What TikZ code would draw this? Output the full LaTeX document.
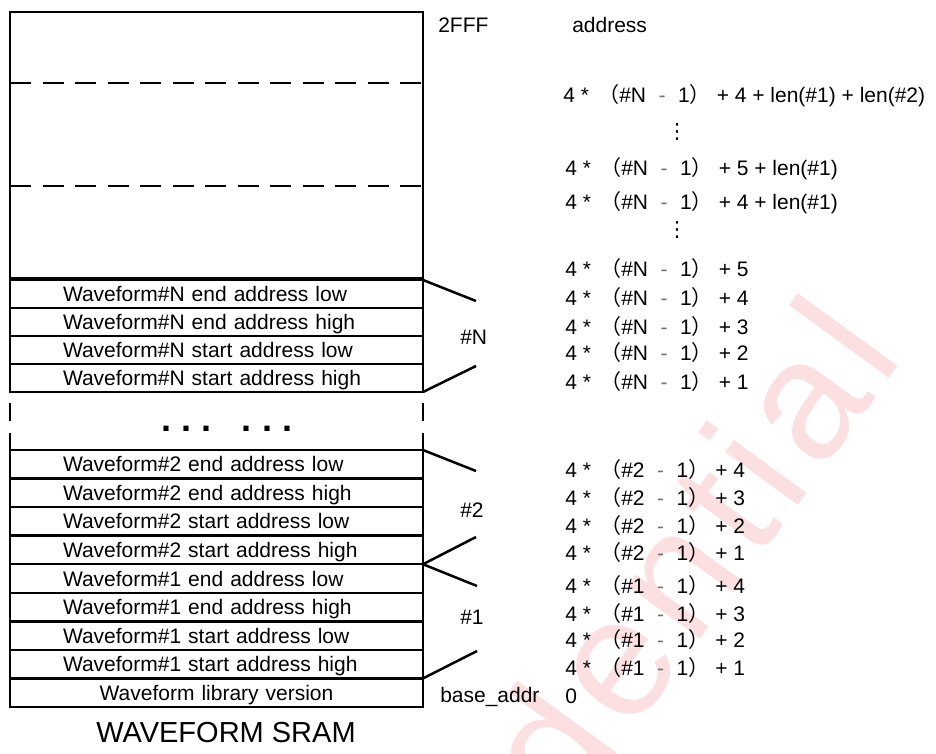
\documentclass[tikz,border=0pt]{standalone}
\usepackage{fontspec}
\setmainfont{Liberation Sans}
\newfontfamily\cjk{Noto Sans CJK SC}
\newfontfamily\dvs{DejaVu Sans}
\usetikzlibrary{positioning}
\definecolor{wmpink}{RGB}{252,224,225}
\newcommand{\fsz}[1]{\fontsize{#1}{#1}\selectfont}
\newcommand{\adr}[2]{\makebox[56pt][l]{4 *}\llap{\cjk （}\##1\makebox[32pt]{\color{black!55}-}1\rlap{\cjk ）}\hspace{27pt}+ #2}

\begin{document}
\begin{tikzpicture}[x=1pt,y=-1pt,line width=2.5pt,node distance=28.55pt,
  row/.style={draw,outer sep=0pt,minimum width=413pt,minimum height=28.55pt,inner xsep=53pt,inner ysep=0pt,
    text width=307pt,align=left,text height=15pt,text depth=0pt,font=\fsz{21}},
  lbl/.style={anchor=base west,inner sep=0pt,font=\fsz{21}}]
  \useasboundingbox (0,0) rectangle (936,754);
  \begin{scope}
    \clip (0,0) rectangle (936,754);
    \node[rotate=54,anchor=base east,inner sep=0pt,text=wmpink,font=\fsz{170}\addfontfeatures{LetterSpace=7}] (wm) at (906,356) {Confidential};
  \end{scope}

  \node[draw,outer sep=0pt,minimum width=413pt,minimum height=266pt] (M) at (216.5,145) {};
  \draw[dashed,dash pattern=on 21pt off 11.5pt] (M.west |- 0,83) -- (M.east |- 0,83);
  \draw[dashed,dash pattern=on 21pt off 11.5pt] (M.west |- 0,186) -- (M.east |- 0,186);

  \node[row,minimum height=28pt] (N1) at (216.5,294) {Waveform\#N end address low};
  \node[row,minimum height=28pt,below of=N1,node distance=28pt] (N2) {Waveform\#N end address high};
  \node[row,minimum height=28pt,below of=N2,node distance=28pt] (N3) {Waveform\#N start address low};
  \node[row,minimum height=28pt,below of=N3,node distance=28pt] (N4) {Waveform\#N start address high};

  \node[font=\bfseries\fsz{36},anchor=base,inner sep=0pt] (D) at (227,431) {\frenchspacing. . .\hspace{30pt}. . .};

  \node[row] (T1) at (216.5,464.3) {Waveform\#2 end address low};
  \node[row,below of=T1] (T2) {Waveform\#2 end address high};
  \node[row,below of=T2] (T3) {Waveform\#2 start address low};
  \node[row,below of=T3] (T4) {Waveform\#2 start address high};
  \node[row,below of=T4] (O1) {Waveform\#1 end address low};
  \node[row,below of=O1] (O2) {Waveform\#1 end address high};
  \node[row,below of=O2] (O3) {Waveform\#1 start address low};
  \node[row,below of=O3] (O4) {Waveform\#1 start address high};
  \node[row,below of=O4,align=center] (V) {Waveform library version};

  \foreach \s in {west,east} {
    \draw (N4.south \s) ++(0,11) -- ++(0,18);
    \draw (T1.north \s) -- ++(0,-17);
  }

  \coordinate (kN1) at (476,301);
  \coordinate (kN2) at (476,366);
  \coordinate (kT1) at (476,471);
  \coordinate (kT2) at (476,537);
  \coordinate (kO1) at (477,586);
  \coordinate (kO2) at (477,651);
  \path (N1.north east) edge (kN1)
        (N4.south east) edge (kN2)
        (T1.north east) edge (kT1)
        (T4.south east) edge (kT2)
        (O1.north east) edge (kO1)
        (O4.south east) edge (kO2);

  \node[lbl] (gN) at (459,344.5) {\#N};
  \node[lbl] (gT) at (459,517.5) {\#2};
  \node[lbl] (gO) at (459,624.5) {\#1};

  \node[lbl] (top) at (437,32.5) {2FFF};
  \node[lbl] (hdr) at (571,32.5) {address};
  \node[lbl] (f1) at (562,102.5) {\adr{N}{4 + len(\#1) + len(\#2)}};
  \node[font=\dvs\fsz{21},inner sep=0pt] (v1) at (677,132) {⋮};
  \node[lbl] (f2) at (564,175.5) {\adr{N}{5 + len(\#1)}};
  \node[lbl] (f3) at (564,209.5) {\adr{N}{4 + len(\#1)}};
  \node[font=\dvs\fsz{21},inner sep=0pt] (v2) at (677,230) {⋮};
  \foreach \t/\y in {5/276.5,4/305.5,3/334.5,2/360.5,1/389.5}
    \node[lbl] (fN\t) at (564,\y) {\adr{N}{\t}};
  \foreach \t/\y in {4/477.5,3/505.5,2/533.5,1/560.5}
    \node[lbl] (fT\t) at (564,\y) {\adr{2}{\t}};
  \foreach \t/\y in {4/593.5,3/621.5,2/647.5,1/675.5}
    \node[lbl] (fO\t) at (564,\y) {\adr{1}{\t}};
  \node[lbl] (base) at (439,702) {base\_addr};
  \node[lbl] (zero) at (564,703.5) {0};

  \node[font=\fsz{29},inner sep=0pt] (ttl) at (226,732.5) {WAVEFORM SRAM};
\end{tikzpicture}
\end{document}
